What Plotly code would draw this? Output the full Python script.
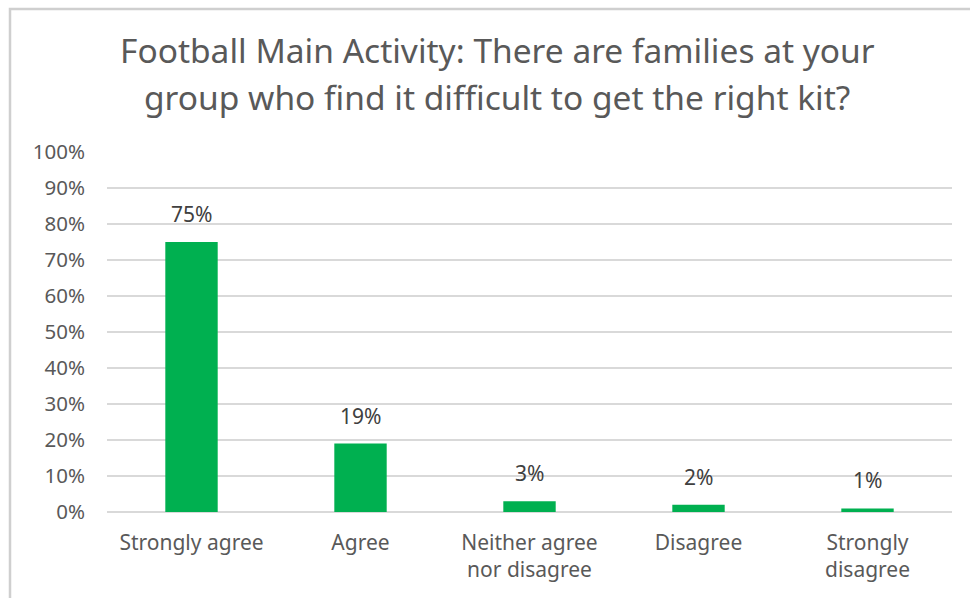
import plotly.graph_objects as go

categories = ["Strongly agree", "Agree", "Neither agree<br>nor disagree", "Disagree", "Strongly<br>disagree"]
values = [75, 19, 3, 2, 1]
y_ticks = list(range(0, 101, 10))
y_tick_labels = [f"{v}%" for v in y_ticks]

title_lines = ["Football Main Activity: There are families at your",
               "group who find it difficult to get the right kit?"]

GREEN = "#00B050"
GREY_TEXT = "#595959"
GRID = "#D9D9D9"
FONT = "Noto Sans"

# plot-area geometry in pixels (used to place frame and title in paper coords)
W, H = 970, 598
ML, MR, MT, MB = 107, 18, 152, 86
pw, ph = W - ML - MR, H - MT - MB


def px_x(x):
    return (x - ML) / pw


def px_y(y):
    return 1 - (y - MT) / ph


fig = go.Figure()
fig.add_trace(go.Bar(
    x=categories,
    y=values,
    marker=dict(color=GREEN, line=dict(width=0)),
    width=0.31,
    hoverinfo="skip",
))

# value labels above each bar
for c, v in zip(categories, values):
    fig.add_annotation(
        x=c, y=v, text=f"{v}%", showarrow=False,
        yanchor="bottom", yshift=12,
        font=dict(family=FONT, size=21, color="#404040"),
    )

# two-line title, placed line by line for wider line spacing
for i, line in enumerate(title_lines):
    fig.add_annotation(
        xref="paper", yref="paper",
        x=px_x(497), y=px_y(50 + 47 * i),
        xanchor="center", yanchor="middle",
        text=line, showarrow=False,
        font=dict(family=FONT, size=33.5, color=GREY_TEXT),
    )

# chart frame: light grey top and left edges, as one open path in pixel-derived paper coords
fx0, fy0 = px_x(10), px_y(9)
fx1, fy1 = px_x(W + 20), px_y(H + 20)
fig.add_shape(
    type="path", xref="paper", yref="paper",
    path=f"M {fx0} {fy1} L {fx0} {fy0} L {fx1} {fy0}",
    line=dict(color="#CFCFCF", width=2.5),
    layer="above",
)

fig.update_layout(
    width=W, height=H,
    margin=dict(l=ML, r=MR, t=MT, b=MB),
    paper_bgcolor="white", plot_bgcolor="white",
    showlegend=False,
    xaxis=dict(
        showgrid=False, showline=False, zeroline=False,
        ticks="", tickfont=dict(family=FONT, size=21, color=GREY_TEXT),
        ticklabelstandoff=16,
    ),
    yaxis=dict(
        range=[0, 100], tickvals=y_ticks, ticktext=y_tick_labels,
        showgrid=True, gridcolor=GRID, gridwidth=1.5,
        zeroline=True, zerolinecolor=GRID, zerolinewidth=1.5,
        showline=False, ticks="",
        tickfont=dict(family=FONT, size=20.5, color=GREY_TEXT),
        ticklabelstandoff=21,
    ),
)

fig.write_html("out.html")
